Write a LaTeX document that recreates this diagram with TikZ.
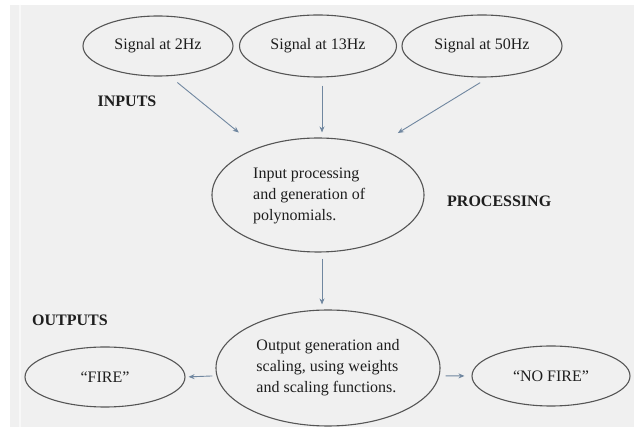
\documentclass[tikz,border=0pt]{standalone}
\usepackage{fontspec}
\setmainfont{Liberation Serif}
\usetikzlibrary{arrows.meta,shapes.geometric}

\definecolor{pagegray}{RGB}{240,240,240}
\definecolor{edgegray}{RGB}{85,85,85}
\definecolor{arrowblue}{RGB}{112,135,160}
\definecolor{inkc}{RGB}{30,30,30}

\begin{document}
\begin{tikzpicture}[x=1pt,y=-1pt,
  bubble/.style={ellipse, draw=edgegray, line width=1.1pt, inner sep=0pt,
    text=inkc, font=\fontsize{16}{21}\selectfont, align=left},
  bodytext/.style={text=inkc, font=\fontsize{16}{21}\selectfont, align=left, inner sep=0pt},
  flow/.style={draw=arrowblue, line width=0.9pt, -{Stealth[length=6pt,width=5pt]}},
  heading/.style={font=\fontsize{16}{19}\selectfont\bfseries, text=inkc, inner sep=0pt}]

% page area
\useasboundingbox (0,0) rectangle (635,427);
\fill[white] (0,0) rectangle (635,427);
\fill[pagegray] (10,5) rectangle (634,427);
\draw[white!55!pagegray, line width=1.5pt] (20,5) -- (20,427);

% input signals
\node[bubble, minimum width=150pt, minimum height=60pt] (s2)  at (158,46) {Signal at 2Hz};
\node[bubble, minimum width=157pt, minimum height=62pt] (s13) at (318,46) {Signal at 13Hz};
\node[bubble, minimum width=160pt, minimum height=62pt] (s50) at (482,46) {Signal at 50Hz};

% processing stage
\node[bubble, minimum width=212pt, minimum height=114pt] (proc) at (318,195) {};
\node[bodytext, anchor=west] (proctext) at (253,196)
  {Input processing\\and generation of\\polynomials.};

% output stage
\node[bubble, minimum width=224pt, minimum height=116pt] (out) at (328,368)
  {Output generation and\\scaling, using weights\\and scaling functions.};
\node[bubble, minimum width=160pt, minimum height=60pt] (fire)   at (105,377) {“FIRE”};
\node[bubble, minimum width=158pt, minimum height=60pt] (nofire) at (551,376) {“NO FIRE”};

% stage headings
\node[heading] (inputs) at (127,101) {INPUTS};
\node[heading, anchor=west] (processing) at (447,201) {PROCESSING};
\node[heading] (outputs) at (70,320) {OUTPUTS};

% connectors
\draw[flow, shorten <=10pt, shorten >=24pt] (s2.-69) -- (proc.142.9);
\draw[flow, shorten <=8pt, shorten >=5pt] ([xshift=4pt]s13.south) -- ([xshift=4pt]proc.north);
\draw[flow, shorten <=10pt, shorten >=26pt] (s50.-78.5) -- (proc.40.4);
\draw[flow, shorten <=6pt, shorten >=5pt] ([xshift=4pt]proc.south) -- ([xshift=-6pt]out.north);
\draw[flow, shorten <=4pt, shorten >=3pt] (out.184.65) -- (fire.east);
\draw[flow, shorten <=6pt, shorten >=7pt] (out.-4.1) -- (nofire.west);
\end{tikzpicture}
\end{document}
